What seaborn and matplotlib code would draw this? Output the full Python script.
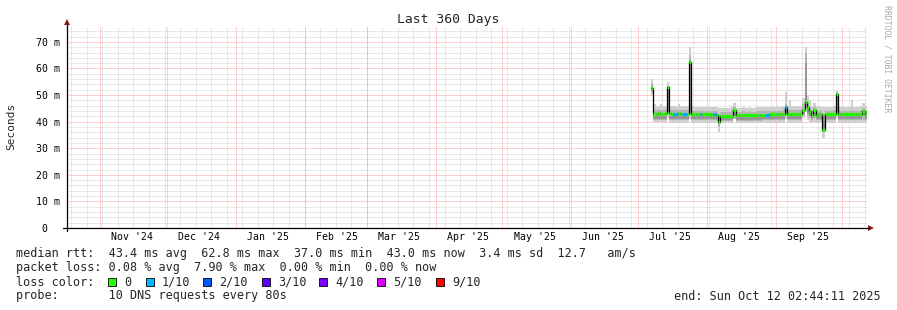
import numpy as np
import pandas as pd
import matplotlib
matplotlib.use("Agg")
import matplotlib.pyplot as plt
from matplotlib.lines import Line2D
from matplotlib.patches import Polygon, Rectangle
import seaborn as sns

# ---------------- data (ms), one value per day from 2025-07-07 ----------------
median = [
    52.5, 43.0, 43.0, 43.1, 43.0, 43.0, 43.1, 53.0, 43.1, 43.0,
    43.0, 43.0, 43.1, 43.0, 43.0, 43.0, 42.9, 62.5, 42.8, 42.8,
    42.7, 42.7, 42.7, 42.8, 42.7, 42.7, 42.8, 42.6, 42.7, 42.6,
    40.0, 42.2, 42.1, 42.2, 42.2, 42.1, 42.3, 44.5, 42.5, 42.5,
    42.5, 42.6, 42.5, 42.5, 42.6, 42.5, 42.5, 42.6, 42.5, 42.6,
    42.6, 42.6, 42.6, 42.7, 42.7, 42.8, 42.8, 42.9, 42.9, 43.0,
    45.5, 43.0, 43.0, 43.0, 43.0, 42.9, 43.0, 43.0, 44.5, 47.5,
    45.5, 44.0, 42.5, 44.5, 42.5, 42.8, 42.8, 37.0, 42.8, 42.8,
    42.8, 42.9, 42.8, 50.5, 42.8, 42.8, 42.8, 42.8, 42.9, 42.8,
    42.8, 42.8, 42.8, 42.8, 42.8, 44.0, 42.8]

loss = [
    0, 0, 0, 0, 0, 0, 0, 0, 0, 0,
    1, 1, 0, 0, 1, 1, 0, 0, 0, 0,
    0, 0, 1, 0, 0, 0, 0, 0, 1, 0,
    0, 0, 0, 0, 0, 0, 0, 0, 0, 0,
    0, 0, 0, 0, 0, 0, 0, 0, 0, 0,
    0, 1, 1, 0, 0, 0, 0, 0, 0, 0,
    1, 0, 0, 0, 0, 0, 0, 0, 0, 0,
    0, 0, 0, 0, 0, 0, 0, 0, 0, 0,
    0, 0, 0, 0, 0, 0, 0, 0, 0, 0,
    0, 0, 0, 0, 0, 0, 0]

smoke_max = [
    56.0, 46.5, 46.0, 46.0, 46.5, 46.0, 46.0, 55.0, 46.0, 46.0,
    46.0, 46.0, 46.5, 46.0, 46.0, 46.0, 46.0, 68.0, 46.0, 45.5,
    45.5, 45.5, 45.5, 45.5, 45.5, 45.5, 45.5, 45.5, 45.5, 45.5,
    45.0, 45.0, 45.0, 45.0, 45.0, 45.0, 46.0, 47.0, 45.0, 45.0,
    45.0, 45.5, 45.0, 45.0, 45.5, 45.0, 45.0, 45.5, 45.5, 45.5,
    45.5, 45.5, 45.5, 45.5, 45.5, 45.5, 45.5, 45.5, 45.5, 46.0,
    51.0, 46.0, 48.0, 46.0, 46.0, 46.0, 46.0, 46.0, 49.0, 68.0,
    50.0, 48.0, 46.0, 47.0, 46.0, 45.5, 45.5, 45.5, 45.5, 45.5,
    45.5, 45.5, 46.0, 52.0, 45.5, 45.5, 45.5, 45.5, 45.5, 45.5,
    48.0, 45.5, 45.5, 45.5, 46.0, 47.0, 46.0]

smoke_min = [
    50.0, 40.0, 40.0, 40.0, 40.0, 40.0, 40.0, 41.5, 39.5, 39.5,
    39.5, 39.5, 39.5, 39.5, 39.5, 39.5, 39.5, 41.0, 39.5, 39.5,
    39.5, 39.5, 39.5, 39.5, 39.5, 39.5, 39.5, 39.5, 39.5, 39.5,
    36.0, 39.5, 39.5, 39.5, 39.5, 39.5, 39.5, 41.0, 39.5, 39.5,
    39.5, 39.5, 39.5, 39.5, 39.5, 39.5, 39.5, 39.5, 39.5, 39.5,
    39.5, 39.5, 39.5, 39.5, 39.5, 39.5, 39.5, 39.5, 39.5, 39.5,
    41.0, 39.5, 39.5, 39.5, 39.5, 39.5, 39.5, 39.5, 41.5, 43.5,
    40.5, 40.0, 39.5, 40.0, 39.5, 39.5, 39.5, 34.0, 39.5, 39.5,
    39.5, 39.5, 39.5, 41.5, 39.5, 39.5, 39.5, 39.5, 39.5, 39.5,
    39.5, 39.5, 39.5, 39.5, 39.5, 39.5, 39.5]

mid_hi = [
    54.5, 44.5, 44.3, 44.3, 44.5, 44.3, 44.3, 53.5, 44.3, 44.3,
    44.3, 44.3, 44.5, 44.3, 44.3, 44.3, 44.3, 65.0, 44.3, 44.0,
    44.0, 44.0, 44.0, 44.0, 44.0, 44.0, 44.0, 44.0, 44.0, 44.0,
    43.0, 43.8, 43.8, 43.8, 43.8, 43.8, 44.5, 45.5, 43.8, 43.8,
    43.8, 44.0, 43.8, 43.8, 44.0, 43.8, 43.8, 44.0, 44.0, 44.0,
    44.0, 44.0, 44.0, 44.0, 44.0, 44.0, 44.0, 44.0, 44.0, 44.3,
    46.5, 44.3, 44.5, 44.3, 44.3, 44.3, 44.3, 44.3, 46.5, 66.0,
    47.0, 45.5, 44.0, 45.5, 44.0, 44.0, 44.0, 43.0, 44.0, 44.0,
    44.0, 44.0, 44.3, 51.0, 44.0, 44.0, 44.0, 44.0, 44.0, 44.0,
    44.5, 44.0, 44.0, 44.0, 44.3, 45.0, 44.3]

mid_lo = [
    51.0, 40.8, 40.8, 40.8, 40.8, 40.8, 40.8, 42.5, 40.6, 40.6,
    40.6, 40.6, 40.6, 40.6, 40.6, 40.6, 40.6, 42.5, 40.6, 40.6,
    40.6, 40.6, 40.6, 40.6, 40.6, 40.6, 40.6, 40.6, 40.6, 40.6,
    38.0, 40.4, 40.4, 40.4, 40.4, 40.4, 40.4, 41.0, 40.4, 40.4,
    40.4, 40.4, 40.4, 40.4, 40.4, 40.4, 40.4, 40.4, 40.4, 40.4,
    40.6, 40.6, 40.6, 40.6, 40.6, 40.6, 40.6, 40.6, 40.6, 40.6,
    42.0, 40.6, 40.6, 40.6, 40.6, 40.6, 40.6, 40.6, 42.5, 45.0,
    42.0, 41.5, 40.6, 41.5, 40.6, 40.6, 40.6, 36.0, 40.6, 40.6,
    40.6, 40.6, 40.6, 42.5, 40.6, 40.6, 40.6, 40.6, 40.6, 40.6,
    40.6, 40.6, 40.6, 40.6, 40.6, 40.6, 40.6]

dark_hi = [
    53.5, 42.3, 42.3, 42.3, 42.3, 42.3, 42.3, 52.0, 42.3, 42.3,
    42.3, 42.3, 42.3, 42.3, 42.3, 42.3, 42.3, 63.0, 42.2, 42.2,
    42.2, 42.2, 42.2, 42.2, 42.2, 42.2, 42.2, 42.2, 42.2, 42.2,
    42.0, 41.8, 41.8, 41.8, 41.8, 41.8, 41.8, 44.0, 42.0, 42.0,
    42.0, 42.0, 42.0, 42.0, 42.0, 42.0, 42.0, 42.0, 42.0, 42.0,
    42.0, 42.0, 42.0, 42.1, 42.1, 42.2, 42.2, 42.2, 42.2, 42.3,
    45.0, 42.3, 42.3, 42.3, 42.3, 42.2, 42.3, 42.3, 44.0, 62.0,
    45.0, 43.5, 42.0, 44.0, 42.0, 42.2, 42.2, 42.0, 42.2, 42.2,
    42.2, 42.2, 42.2, 50.0, 42.2, 42.2, 42.2, 42.2, 42.2, 42.2,
    42.2, 42.2, 42.2, 42.2, 42.2, 43.5, 42.2]

dark_lo = [
    52.0, 41.0, 41.0, 41.0, 41.0, 41.0, 41.0, 43.5, 40.9, 40.9,
    40.9, 40.9, 40.9, 40.9, 40.9, 40.9, 40.9, 44.0, 40.9, 40.9,
    40.9, 40.9, 40.9, 40.9, 40.9, 40.9, 40.9, 40.9, 40.9, 40.9,
    39.0, 40.7, 40.7, 40.7, 40.7, 40.7, 40.7, 42.0, 40.7, 40.7,
    40.7, 40.7, 40.7, 40.7, 40.7, 40.7, 40.7, 40.7, 40.7, 40.7,
    40.9, 40.9, 40.9, 40.9, 40.9, 40.9, 40.9, 40.9, 40.9, 40.9,
    43.0, 40.9, 40.9, 40.9, 40.9, 40.9, 40.9, 40.9, 42.5, 47.0,
    43.0, 42.0, 40.9, 42.0, 40.9, 40.9, 40.9, 37.5, 40.9, 40.9,
    40.9, 40.9, 40.9, 43.5, 40.9, 40.9, 40.9, 40.9, 40.9, 40.9,
    40.9, 40.9, 40.9, 40.9, 40.9, 42.0, 40.9]

month_labels = ["Nov '24", "Dec '24", "Jan '25", "Feb '25", "Mar '25", "Apr '25",
                "May '25", "Jun '25", "Jul '25", "Aug '25", "Sep '25"]
y_ticks = [0, 10, 20, 30, 40, 50, 60, 70]
y_tick_labels = ["0  ", "10 m", "20 m", "30 m", "40 m", "50 m", "60 m", "70 m"]

loss_names = ["0", "1/10", "2/10", "3/10", "4/10", "5/10", "9/10"]
loss_colors = ["#26ff00", "#00b8ff", "#0059ff", "#5e00ff", "#7e00ff", "#dd00ff", "#ff0000"]

stats_lines = [
    "median rtt:  43.4 ms avg  62.8 ms max  37.0 ms min  43.0 ms now  3.4 ms sd  12.7   am/s",
    "packet loss: 0.08 % avg  7.90 % max  0.00 % min  0.00 % now",
    "loss color:",
    "probe:       10 DNS requests every 80s",
]
end_text = "end: Sun Oct 12 02:44:11 2025"

# ---------------- figure ----------------
sns.set_style("white")
plt.rcParams['font.family'] = ['DejaVu Sans Mono', 'DejaVu Sans']

W, H = 897, 310
fig = plt.figure(figsize=(W / 100, H / 100), dpi=100)
fig.patch.set_facecolor("white")


def fx(x):
    return x / W


def fy(y):
    return 1 - y / H


ax = fig.add_axes([fx(67), fy(228), 800 / W, 201 / H])
ax.set_facecolor("white")

t0 = pd.Timestamp("2024-10-17 02:44:11")
t1 = pd.Timestamp("2025-10-12 02:44:11")
n = len(median)
edges = pd.date_range("2025-07-07 00:00", periods=n + 1, freq="D").to_pydatetime()

# grid
weeks = pd.date_range("2024-10-19 00:00", t1, freq="7D").to_pydatetime()
months = pd.date_range("2024-11-01", "2025-10-01", freq="MS").to_pydatetime()
dot = (0, (1, 1))
gkw = dict(lw=0.72, ls=dot)
for w in weeks:
    ax.axvline(w, color="#d2d2d2", zorder=0, **gkw)
for yv in np.arange(2, 76, 2):
    if yv % 10:
        ax.axhline(yv, color="#d2d2d2", zorder=0, **gkw)
for m in months:
    ax.axvline(m, color="#ffa0a0", zorder=0.5, **gkw)
for yv in y_ticks[1:]:
    ax.axhline(yv, color="#ffa0a0", zorder=0.5, **gkw)


def ext(v):
    return list(v) + [v[-1]]


# smoke
ax.fill_between(edges, ext(smoke_min), ext(smoke_max), step="post", color="#d0d0d0", lw=0, zorder=2)
ax.fill_between(edges, ext(mid_lo), ext(mid_hi), step="post", color="#b4b4b4", lw=0, zorder=2.1)
ax.fill_between(edges, ext(dark_lo), ext(dark_hi), step="post", color="#959595", lw=0, zorder=2.2)

# median line (black step) via seaborn
df = pd.DataFrame({"t": edges, "median": ext(median)})
sns.lineplot(data=df, x="t", y="median", ax=ax, color="black", lw=0.9,
             drawstyle="steps-post", estimator=None, zorder=3)

# loss-coloured median segments
seg_colors = [loss_colors[l] for l in loss]
ax.hlines(median, edges[:-1], edges[1:], colors=seg_colors, lw=2.3, zorder=4)

ax.set_xlim(t0, t1)
ax.set_ylim(0, 75.6)
ax.set_xlabel("")
ax.set_ylabel("")
for s in ax.spines.values():
    s.set_visible(False)

label_pos = (pd.date_range("2024-11-01", "2025-09-01", freq="MS") + pd.Timedelta(days=14, hours=12)).to_pydatetime()
ax.set_xticks(label_pos)
ax.set_xticklabels(month_labels)
ax.set_xticks(list(weeks) + list(months), minor=True)
ax.tick_params(axis="x", which="major", length=0, pad=2.9, labelsize=7.1, colors="#000000")
ax.tick_params(axis="x", which="minor", length=2.0, width=0.72, color="#808080", direction="out")
ax.set_yticks(y_ticks)
ax.set_yticklabels(y_tick_labels)
ax.set_yticks(np.arange(2, 76, 2), minor=True)
ax.tick_params(axis="y", which="major", length=2.2, width=0.72, color="#404040", pad=2.9,
               labelsize=7.1, labelcolor="#000000")
ax.tick_params(axis="y", which="minor", length=1.4, width=0.72, color="#808080")
ax.grid(False)

# axis lines + arrows
fig.add_artist(Line2D([fx(63), fx(869)], [fy(228), fy(228)], color="black", lw=0.9))
fig.add_artist(Line2D([fx(67), fx(67)], [fy(231), fy(24)], color="black", lw=0.9))
fig.add_artist(Polygon([(fx(868), fy(225)), (fx(868), fy(231)), (fx(874), fy(228))],
                       closed=True, color="#8b1a1a", lw=0))
fig.add_artist(Polygon([(fx(64), fy(25)), (fx(70), fy(25)), (fx(67), fy(19))],
                       closed=True, color="#8b1a1a", lw=0))

# texts
fig.text(fx(448), fy(19), "Last 360 Days", ha="center", va="center", fontsize=9.4)
fig.text(fx(11), fy(126), "Seconds", rotation=90, ha="center", va="center", fontsize=8)
fig.text(fx(887), fy(59), "RRDTOOL / TOBI OETIKER", rotation=270, ha="center", va="center",
         fontsize=5.9, color="#aaaaaa")

line_y = [254, 268, 282, 296]
for txt, yy in zip(stats_lines, line_y):
    fig.text(fx(16), fy(yy), txt, ha="left", va="center", fontsize=8.5)
fig.text(fx(881), fy(296), end_text, ha="right", va="center", fontsize=8.5)

box_x = [108, 146, 203, 262, 319, 377, 436]
for name, col, bx in zip(loss_names, loss_colors, box_x):
    fig.add_artist(Rectangle((fx(bx), fy(286)), 8 / W, 8 / H, facecolor=col,
                             edgecolor="black", lw=0.6, transform=fig.transFigure))
    fig.text(fx(bx + 16), fy(282), name, ha="left", va="center", fontsize=8.5)

fig.savefig("out.png", dpi=100, facecolor="white")
